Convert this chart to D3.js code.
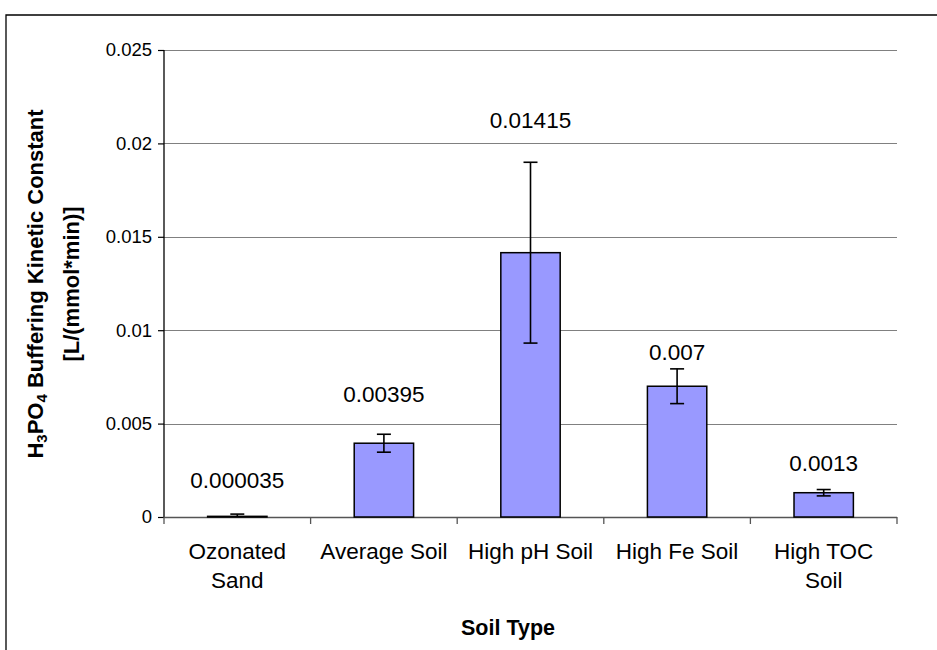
<!DOCTYPE html>
<html>
<head>
<meta charset="utf-8">
<script src="https://cdn.jsdelivr.net/npm/d3@7"></script>
<style>
  html, body { margin: 0; padding: 0; background: #fff; }
  svg text { font-family: Arial, "Liberation Sans", sans-serif; fill: #000; }
</style>
</head>
<body>
<svg id="chart" width="937" height="650"></svg>
<script>
// ---- data ----
const categories = ["Ozonated Sand", "Average Soil", "High pH Soil", "High Fe Soil", "High TOC Soil"];
const categoryLines = [["Ozonated", "Sand"], ["Average Soil"], ["High pH Soil"], ["High Fe Soil"], ["High TOC", "Soil"]];
const values = [0.000035, 0.00395, 0.01415, 0.007, 0.0013];
const errors = [0.00012, 0.00048, 0.00484, 0.00093, 0.00017];
const valueLabels = ["0.000035", "0.00395", "0.01415", "0.007", "0.0013"];
const labelAnchors = [0.00193, 0.00658, 0.02125, 0.00883, 0.00289];
const yTicks = [0, 0.005, 0.01, 0.015, 0.02, 0.025];
const yTickLabels = ["0", "0.005", "0.01", "0.015", "0.02", "0.025"];

// ---- layout ----
const svg = d3.select("#chart");
const pLeft = 164, pRight = 897, pTop = 50, pBottom = 517;

const x = d3.scaleBand().domain(categories).range([pLeft, pRight]).paddingInner(0).paddingOuter(0);
const y = d3.scaleLinear().domain([0, 0.025]).range([pBottom, pTop]);
const barW = x.bandwidth() * 0.405;

// outer frame
svg.append("path").attr("d", `M6,650 V15 H937`).attr("fill", "none").attr("stroke", "#000").attr("stroke-width", 1.3);

// gridlines
svg.append("g").selectAll("line").data(yTicks.filter(d => d > 0)).join("line")
  .attr("x1", pLeft).attr("x2", pRight)
  .attr("y1", d => Math.round(y(d)) + 0.5).attr("y2", d => Math.round(y(d)) + 0.5)
  .attr("stroke", "#808080").attr("stroke-width", 1.2);

// y axis
const yAxis = svg.append("g").attr("transform", `translate(${pLeft},0)`)
  .call(d3.axisLeft(y).tickValues(yTicks).tickFormat((d, i) => yTickLabels[i]).tickSize(6).tickPadding(6));
yAxis.select(".domain").remove();
yAxis.selectAll(".tick line").attr("stroke", "#000").attr("stroke-width", 1.2);
yAxis.selectAll(".tick text").attr("font-size", 18.5).attr("font-family", "Arial, 'Liberation Sans', sans-serif");
svg.append("line").attr("x1", pLeft).attr("x2", pLeft).attr("y1", pTop).attr("y2", pBottom)
  .attr("stroke", "#000").attr("stroke-width", 1.3);

// x axis
svg.append("line").attr("x1", pLeft).attr("x2", pRight).attr("y1", pBottom + 0.5).attr("y2", pBottom + 0.5)
  .attr("stroke", "#555").attr("stroke-width", 1.3);
const bounds = categories.map(c => x(c)).concat([pRight]);
svg.append("g").selectAll("line").data(bounds).join("line")
  .attr("x1", d => d).attr("x2", d => d).attr("y1", pBottom).attr("y2", pBottom + 7)
  .attr("stroke", "#555").attr("stroke-width", 1.3);

// category labels
const catG = svg.append("g");
categories.forEach((c, i) => {
  const t = catG.append("text").attr("text-anchor", "middle").attr("font-size", 22.5)
    .attr("x", x(c) + x.bandwidth() / 2).attr("y", 559);
  categoryLines[i].forEach((ln, j) => {
    t.append("tspan").attr("x", x(c) + x.bandwidth() / 2).attr("dy", j === 0 ? 0 : 29).text(ln);
  });
});

// bars
svg.append("g").selectAll("rect").data(values).join("rect")
  .attr("x", (d, i) => x(categories[i]) + x.bandwidth() / 2 - barW / 2)
  .attr("y", d => y(d))
  .attr("width", barW)
  .attr("height", d => y(0) - y(d))
  .attr("fill", "#9999FF").attr("stroke", "#000").attr("stroke-width", 1.5);

// error bars
const eg = svg.append("g").attr("stroke", "#000").attr("stroke-width", 1.6);
values.forEach((v, i) => {
  const cx = x(categories[i]) + x.bandwidth() / 2;
  const lo = Math.max(0, v - errors[i]), hi = v + errors[i];
  eg.append("line").attr("x1", cx).attr("x2", cx).attr("y1", y(lo)).attr("y2", y(hi));
  eg.append("line").attr("x1", cx - 7).attr("x2", cx + 7).attr("y1", y(hi)).attr("y2", y(hi));
  if (v - errors[i] > 0) eg.append("line").attr("x1", cx - 7).attr("x2", cx + 7).attr("y1", y(lo)).attr("y2", y(lo));
});

// value labels
svg.append("g").selectAll("text").data(valueLabels).join("text")
  .attr("text-anchor", "middle").attr("font-size", 22.5).attr("dominant-baseline", "central")
  .attr("x", (d, i) => x(categories[i]) + x.bandwidth() / 2)
  .attr("y", (d, i) => y(labelAnchors[i]))
  .text(d => d);

// axis titles
svg.append("text").attr("x", 508).attr("y", 635).attr("text-anchor", "middle")
  .attr("font-size", 21.5).attr("font-weight", "bold").text("Soil Type");

const yt = svg.append("text").attr("transform", "translate(43,284) rotate(-90)")
  .attr("text-anchor", "middle").attr("font-size", 22).attr("font-weight", "bold");
yt.append("tspan").attr("x", 0).attr("dy", 0).text("H");
yt.append("tspan").attr("font-size", 15).attr("dy", 4).text("3");
yt.append("tspan").attr("dy", -4).text("PO");
yt.append("tspan").attr("font-size", 15).attr("dy", 4).text("4");
yt.append("tspan").attr("dy", -4).text(" Buffering Kinetic Constant");
yt.append("tspan").attr("x", 0).attr("dy", 36).text("[L/(mmol*min)]");
</script>
</body>
</html>
